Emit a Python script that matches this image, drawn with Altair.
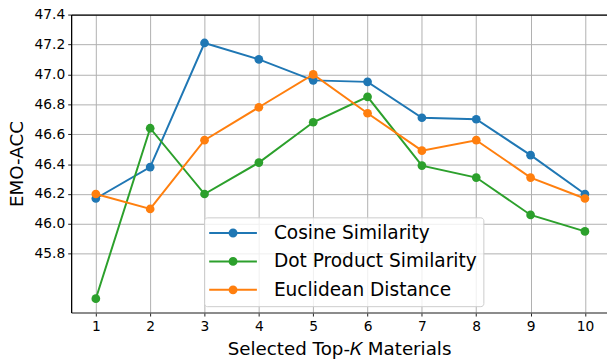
import altair as alt
import pandas as pd

ks = [1, 2, 3, 4, 5, 6, 7, 8, 9, 10]
series_names = ["Cosine Similarity", "Dot Product Similarity", "Euclidean Distance"]
colors = ["#1f77b4", "#2ca02c", "#ff7f0e"]
cosine = [46.17, 46.38, 47.21, 47.10, 46.96, 46.95, 46.71, 46.70, 46.46, 46.20]
dot = [45.50, 46.64, 46.20, 46.41, 46.68, 46.85, 46.39, 46.31, 46.06, 45.95]
euclid = [46.20, 46.10, 46.56, 46.78, 47.00, 46.74, 46.49, 46.56, 46.31, 46.17]
y_ticks = [45.8, 46.0, 46.2, 46.4, 46.6, 46.8, 47.0, 47.2, 47.4]

rows = []
for name, vals in zip(series_names, [cosine, dot, euclid]):
    for k, v in zip(ks, vals):
        rows.append({"K": k, "value": v, "series": name})
df = pd.DataFrame(rows)

FONT = "DejaVu Sans"

x_scale = alt.Scale(domain=[0.546, 10.406], nice=False, zero=False)
y_scale = alt.Scale(domain=[45.407, 47.4], nice=False, zero=False)

x_axis_bottom = alt.Axis(values=ks, format="d", title="Selected Top-𝐾 Materials",
                         titleFontSize=18.5, titleFontWeight="normal", titlePadding=6,
                         labelFontSize=14, tickSize=3.5, labelPadding=3.5,
                         domainColor="#666666", domainWidth=1.5, tickColor="#222222",
                         grid=True, gridColor="#b0b0b0", gridWidth=1, labelColor="black",
                         titleColor="black", labelFlush=False)
x_enc_axis = alt.X("K:Q", scale=x_scale, axis=x_axis_bottom)
x_enc_plain = alt.X("K:Q", scale=x_scale, axis=None)
y_enc = alt.Y(
    "value:Q", scale=y_scale,
    axis=alt.Axis(values=y_ticks, format=".1f", title="EMO-ACC",
                  titleFontSize=18.5, titleFontWeight="normal", titlePadding=8,
                  labelFontSize=14, tickSize=3.5, labelPadding=3,
                  domainColor="black", domainWidth=1.3, tickColor="#222222",
                  grid=True, gridColor="#b0b0b0", gridWidth=1, labelColor="black",
                  titleColor="black", labelFlush=False),
)

legend_path = "M-5.37,0H5.37M0.78,0A0.78,0.78,0,1,1,-0.78,0A0.78,0.78,0,1,1,0.78,0Z"
legend = alt.Legend(
    title=None, orient="none", legendX=134.7, legendY=205.5,
    symbolType=legend_path, symbolSize=81, symbolStrokeWidth=2,
    labelFontSize=18.8, labelColor="black", labelLimit=400,
    padding=6.45, rowPadding=8.8, symbolOffset=13.5, labelOffset=32,
    fillColor="rgba(255,255,255,0.8)", strokeColor="#cccccc",
    cornerRadius=3, symbolOpacity=1,
)
color_scale = alt.Scale(domain=series_names, range=colors)
stroke_enc = alt.Stroke("series:N", scale=color_scale, legend=legend)
fill_enc = alt.Fill("series:N", scale=color_scale, legend=legend)

top_spine = alt.Chart(df).mark_line(opacity=0).encode(
    x=alt.X("K:Q", scale=x_scale,
            axis=alt.Axis(orient="top", labels=False, ticks=False, grid=False,
                          title=None, domainColor="black", domainWidth=1.3)),
    y=y_enc,
)

layers = [top_spine]
first = True
for name in series_names:
    base = alt.Chart(df).transform_filter(alt.datum.series == name)
    xe = x_enc_axis if first else x_enc_plain
    first = False
    layers.append(base.mark_line(strokeWidth=2).encode(x=xe, y=y_enc, stroke=stroke_enc))
    layers.append(base.mark_circle(size=78, opacity=1).encode(x=x_enc_plain, y=y_enc, fill=fill_enc))

chart = alt.layer(*layers).resolve_axis(x="independent").properties(
    width=543, height=302,
    autosize=alt.AutoSizeParams(type="none"),
    padding={"left": 64, "top": 4.3, "right": 0, "bottom": 47},
).configure(font=FONT).configure_view(stroke=None)

chart.save("out.html", embed_options={"renderer": "svg", "actions": False})
